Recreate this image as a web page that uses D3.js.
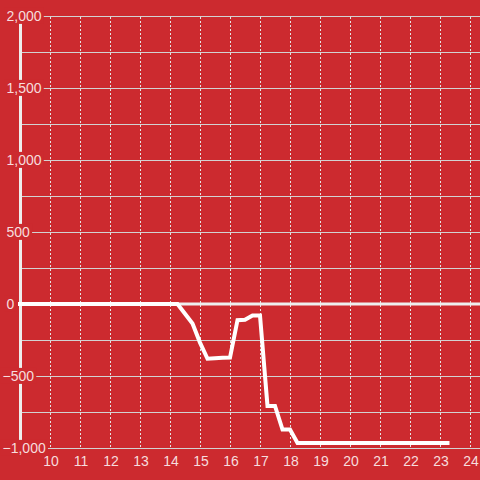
<!DOCTYPE html>
<html lang="en">
<head>
<meta charset="UTF-8" />
<title>Chart</title>
<script src="https://cdn.jsdelivr.net/npm/d3@7"></script>
<style>
    html, body { margin: 0; padding: 0; background: #cc2a2f; }
    svg { display: block; font-family: "Liberation Sans", Arial, sans-serif; }
</style>
</head>
<body>
<svg width="480" height="480"></svg>
<script>
    // hours of the day and running value
    const times = [9, 14.25, 14.5, 14.75, 15, 15.25, 15.5, 15.75, 16, 16.25, 16.5, 16.75, 17, 17.25, 17.5, 17.75, 18, 18.25, 23.25];
    const values = [0, 0, -67, -135, -268, -380, -377, -374, -372, -112, -110, -80, -80, -708, -708, -872, -872, -965, -965];

    const xTicks = [10, 11, 12, 13, 14, 15, 16, 17, 18, 19, 20, 21, 22, 23, 24];
    const yGrid = [-1000, -750, -500, -250, 0, 250, 500, 750, 1000, 1250, 1500, 1750, 2000];
    const yLabels = [-1000, -500, 0, 500, 1000, 1500, 2000];

    const bg = "#cc2a2f";
    const svg = d3.select("svg"),
        width = +svg.attr("width"),
        height = +svg.attr("height");

    const x = d3.scaleLinear().domain([9, 24 + 1 / 3]).range([20, width]);
    const y = d3.scaleLinear().domain([-1000, 2000]).range([448, 16]);

    svg.append("rect").attr("width", width).attr("height", height).attr("fill", bg);

    // horizontal grid
    svg.append("g")
        .selectAll("line")
        .data(yGrid)
        .join("line")
        .attr("x1", 22).attr("x2", width)
        .attr("y1", d => y(d) + 0.5).attr("y2", d => y(d) + 0.5)
        .attr("stroke", "#d2d2d2")
        .attr("stroke-width", 1);

    // vertical dashed grid
    svg.append("g")
        .selectAll("line")
        .data(xTicks)
        .join("line")
        .attr("x1", d => Math.round(x(d)) + 0.5).attr("x2", d => Math.round(x(d)) + 0.5)
        .attr("y1", y(2000) + 1).attr("y2", y(-1000))
        .attr("stroke", "#e4e4e4")
        .attr("stroke-dasharray", "2,2");

    // axis lines
    svg.append("line")
        .attr("x1", 20.5).attr("x2", 20.5)
        .attr("y1", y(2000)).attr("y2", y(-1000))
        .attr("stroke", "#eeeeee").attr("stroke-width", 3);

    svg.append("line")
        .attr("x1", 18).attr("x2", width)
        .attr("y1", y(0)).attr("y2", y(0))
        .attr("stroke", "#eeeeee").attr("stroke-width", 3);

    // data line
    const pts = times.map((t, i) => [t, values[i]]);
    svg.append("path")
        .datum(pts)
        .attr("fill", "none")
        .attr("stroke", "#ffffff")
        .attr("stroke-width", 4)
        .attr("stroke-linecap", "square")
        .attr("d", d3.line().x(d => x(d[0])).y(d => y(d[1])));

    // y labels with background boxes
    const fmt = d3.format(",");
    const yl = svg.append("g")
        .selectAll("g")
        .data(yLabels)
        .join("g");

    const ytext = yl.append("text")
        .attr("x", d => d < 0 ? 2.5 : 6.5)
        .attr("y", d => y(d))
        .attr("dy", "0.35em")
        .attr("font-size", 14)
        .attr("fill", "#fff")
        .attr("fill-opacity", 0.85)
        .text(d => fmt(d));

    ytext.each(function () {
        const b = this.getBBox();
        d3.select(this.parentNode).insert("rect", "text")
            .attr("x", b.x - 2).attr("y", b.y)
            .attr("width", b.width + 4).attr("height", b.height)
            .attr("fill", bg);
    });

    // x labels
    svg.append("g")
        .selectAll("text")
        .data(xTicks)
        .join("text")
        .attr("x", d => x(d) + 1)
        .attr("y", 465.5)
        .attr("text-anchor", "middle")
        .attr("font-size", 14)
        .attr("fill", "#fff")
        .attr("fill-opacity", 0.85)
        .text(d => d);
</script>
</body>
</html>
